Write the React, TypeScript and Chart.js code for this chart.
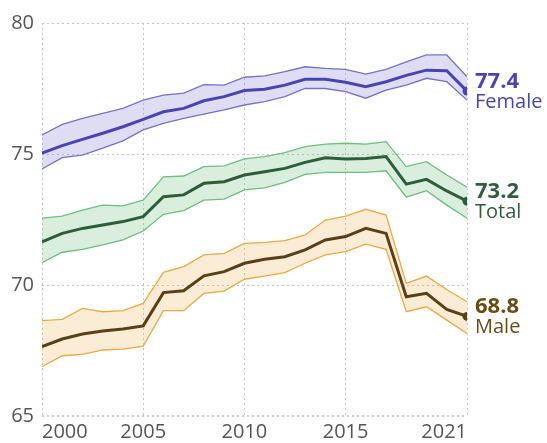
import React, { useEffect, useRef } from "react";
import { Chart, registerables } from "chart.js";
Chart.register(...registerables);

const years = [2000, 2001, 2002, 2003, 2004, 2005, 2006, 2007, 2008, 2009, 2010, 2011, 2012, 2013, 2014, 2015, 2016, 2017, 2018, 2019, 2020, 2021];
const xTicks = [2000, 2005, 2010, 2015, 2021];
const yTicks = [65, 70, 75, 80];

const femaleMid = [75.03, 75.32, 75.56, 75.79, 76.04, 76.32, 76.61, 76.74, 77.03, 77.19, 77.42, 77.47, 77.63, 77.85, 77.85, 77.74, 77.57, 77.76, 78.0, 78.2, 78.18, 77.4];
const femaleHi = [75.73, 76.13, 76.36, 76.55, 76.74, 77.06, 77.25, 77.32, 77.65, 77.63, 77.93, 77.98, 78.14, 78.33, 78.27, 78.23, 78.05, 78.23, 78.52, 78.78, 78.78, 77.95];
const femaleLo = [74.43, 74.86, 74.96, 75.22, 75.5, 75.92, 76.17, 76.36, 76.52, 76.68, 76.87, 77.0, 77.19, 77.5, 77.5, 77.38, 77.13, 77.44, 77.63, 77.89, 77.76, 77.06];

const totalMid = [71.65, 71.97, 72.16, 72.29, 72.42, 72.61, 73.37, 73.44, 73.88, 73.94, 74.2, 74.32, 74.45, 74.68, 74.86, 74.81, 74.83, 74.9, 73.85, 74.03, 73.59, 73.2];
const totalHi = [72.55, 72.63, 72.86, 73.05, 73.02, 73.24, 74.13, 74.16, 74.52, 74.55, 74.81, 74.9, 75.05, 75.28, 75.38, 75.41, 75.38, 75.47, 74.52, 74.71, 74.2, 73.73];
const totalLo = [70.85, 71.25, 71.36, 71.53, 71.72, 72.06, 72.7, 72.84, 73.24, 73.28, 73.63, 73.71, 73.92, 74.22, 74.3, 74.3, 74.3, 74.36, 73.35, 73.6, 73.05, 72.55];

const maleMid = [67.65, 67.94, 68.13, 68.24, 68.32, 68.44, 69.71, 69.78, 70.35, 70.51, 70.83, 70.98, 71.08, 71.34, 71.72, 71.85, 72.16, 71.97, 69.55, 69.68, 69.07, 68.8];
const maleHi = [68.64, 68.69, 69.11, 68.98, 69.02, 69.3, 70.48, 70.7, 71.15, 71.21, 71.59, 71.63, 71.69, 71.91, 72.48, 72.63, 72.89, 72.67, 70.06, 70.34, 69.83, 69.36];
const maleLo = [66.88, 67.3, 67.35, 67.52, 67.55, 67.67, 69.02, 69.02, 69.68, 69.77, 70.22, 70.34, 70.47, 70.83, 71.15, 71.27, 71.56, 71.36, 68.98, 69.17, 68.66, 68.15];

const seriesNames = ["Female", "Total", "Male"];

export default function App() {
  const ref = useRef<HTMLCanvasElement>(null);
  useEffect(() => {
    const pts = (arr: number[]) => arr.map((y, i) => ({ x: years[i], y }));
    const series = [
      { name: seriesNames[0], mid: femaleMid, hi: femaleHi, lo: femaleLo, line: "#4845b0", edge: "#7572cb", fill: "rgba(117,114,203,0.24)", text: "#4845b0" },
      { name: seriesNames[1], mid: totalMid, hi: totalHi, lo: totalLo, line: "#2c5e3a", edge: "#6cbf7d", fill: "rgba(108,191,125,0.26)", text: "#2e5e3c" },
      { name: seriesNames[2], mid: maleMid, hi: maleHi, lo: maleLo, line: "#5a4017", edge: "#eba944", fill: "rgba(235,169,68,0.22)", text: "#6a4a15" },
    ];
    const last = years.length - 1;
    const datasets: any[] = [];
    series.forEach((s) => {
      datasets.push({ data: pts(s.hi), order: 2, borderColor: s.edge, borderWidth: 1.3, pointRadius: 0, fill: "+1", backgroundColor: s.fill, tension: 0 });
      datasets.push({ data: pts(s.lo), order: 2, borderColor: s.edge, borderWidth: 1.3, pointRadius: 0, fill: false, tension: 0 });
    });
    series.forEach((s) => {
      datasets.push({
        data: pts(s.mid),
        order: 0,
        borderColor: s.line,
        borderWidth: 3,
        pointRadius: (c: any) => (c.dataIndex === last ? 4.5 : 0),
        pointBackgroundColor: s.line,
        pointBorderWidth: 0,
        fill: false,
        tension: 0,
      });
    });

    const labelPlugin = {
      id: "endLabels",
      afterDatasetsDraw(chart: any) {
        const ctx = chart.ctx;
        const xs = chart.scales.x;
        const ys = chart.scales.y;
        ctx.save();
        ctx.textAlign = "left";
        ctx.textBaseline = "alphabetic";
        series.forEach((s) => {
          const v = s.mid[last];
          const x = xs.getPixelForValue(years[last]) + 8;
          const y = ys.getPixelForValue(v);
          ctx.fillStyle = s.text;
          ctx.font = "bold 22px 'Open Sans'";
          ctx.fillText(v.toFixed(1), x, y - 3.5);
          ctx.font = "20px 'Open Sans'";
          ctx.fillText(s.name, x, y + 17);
        });
        ctx.restore();
      },
    };

    const chart = new Chart(ref.current!, {
      type: "line",
      data: { datasets },
      plugins: [labelPlugin],
      options: {
        animation: false,
        responsive: false,
        layout: { padding: { top: 23, right: 80, left: 0, bottom: 0 } },
        plugins: { legend: { display: false }, tooltip: { enabled: false } },
        scales: {
          x: {
            type: "linear",
            min: 2000,
            max: 2021,
            afterBuildTicks: (axis: any) => {
              axis.ticks = xTicks.map((v) => ({ value: v }));
            },
            afterFit: (axis: any) => {
              axis.height = 27;
            },
            ticks: {
              align: "inner",
              padding: 4,
              color: "#555555",
              font: { family: "'Open Sans'", size: 20 },
              callback: (v: any) => String(v),
              maxRotation: 0,
              autoSkip: false,
            },
            grid: { color: "#c4c4c4", lineWidth: 1, drawTicks: false, borderDash: [2, 3] } as any,
            border: { display: false, dash: [2, 3] },
          },
          y: {
            min: 65,
            max: 80,
            afterBuildTicks: (axis: any) => {
              axis.ticks = yTicks.map((v) => ({ value: v }));
            },
            afterFit: (axis: any) => {
              axis.width = 42;
            },
            ticks: {
              padding: 8,
              color: "#555555",
              font: { family: "'Open Sans'", size: 20 },
            },
            grid: {
              color: (c: any) => (c.tick && c.tick.value === 65 ? "#cccccc" : "#c4c4c4"),
              lineWidth: (c: any) => (c.tick && c.tick.value === 65 ? 2 : 1),
              borderDash: (c: any) => (c.tick && c.tick.value === 65 ? [4, 3] : [2, 3]),
              drawTicks: false,
            } as any,
            border: { display: false, dash: [2, 3] },
          },
        },
      },
    });
    return () => chart.destroy();
  }, []);
  return (
    <div style={{ position: "fixed", left: 0, top: 0, width: 547, height: 443 }}>
      <canvas ref={ref} width={547} height={443} />
    </div>
  );
}
